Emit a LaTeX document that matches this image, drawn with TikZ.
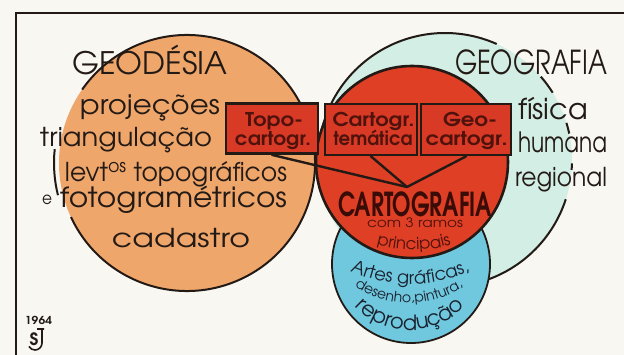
\documentclass[tikz,border=0pt]{standalone}
\usepackage{fontspec}
\setmainfont{TeX Gyre Adventor}
\usetikzlibrary{decorations.text}
\definecolor{bg}{HTML}{F8F7F2}
\definecolor{orangec}{HTML}{EFA66B}
\definecolor{cyanc}{HTML}{D3EEE5}
\definecolor{redc}{HTML}{DF3F25}
\definecolor{boxred}{HTML}{D83A25}
\definecolor{bluec}{HTML}{70C8DE}
\definecolor{ink}{HTML}{231A16}
\definecolor{maroon}{HTML}{4F120C}
\definecolor{cartc}{HTML}{3A0C07}
\definecolor{bluetext}{HTML}{1A2230}
\newcommand\fitw[2]{\resizebox{#1pt}{\height}{#2}}
\newcommand\fs[1]{\fontsize{#1}{#1}\selectfont}
\newcommand\artfont{\fontsize{18}{18}\selectfont}
\newcommand\desfont{\fontsize{14}{14}\selectfont}
\newcommand\repfont{\fontsize{21}{21}\selectfont}
\newcommand\prinfont{\fontsize{16.5}{16.5}\selectfont}
\tikzset{
  outl/.style={draw=ink, line width=2pt},
  txt/.style={inner sep=0pt, anchor=base, text=ink},
  btxt/.style={inner sep=0pt, anchor=base, text=maroon, font=\bfseries},
  boxnode/.style={rectangle, fill=boxred, draw=ink, line width=2.8pt, inner sep=0pt},
  conn/.style={draw=ink, line width=2.4pt, line cap=round, line join=round},
}
\begin{document}
\begin{tikzpicture}[x=1pt,y=-1pt]
\useasboundingbox (0,0) rectangle (624,355);
\fill[bg] (0,0) rectangle (624,355);
\draw[ink, line width=2pt] (16,355) -- (16,13) -- (624,13);
\coordinate (O) at (187,163);
\coordinate (C) at (445,160);
\coordinate (R) at (412,162);
\coordinate (B) at (411,264);
% Geodesia circle
\fill[orangec] (O) circle[radius=128];
\draw[outl] (O) ++(155:128) arc[start angle=155, end angle=-145, radius=128];
\draw[outl] (O) ++(166:133) arc[start angle=166, end angle=186, radius=133];
% Geografia circle
\fill[cyanc] (C) circle[radius=127];
\draw[outl] (C) ++(-180:127) arc[start angle=-180, end angle=-66, radius=127];
\draw[outl] (C) ++(-41:127) arc[start angle=-41, end angle=-32, radius=127];
\draw[outl] (C) ++(-17:127) arc[start angle=-17, end angle=-12, radius=127];
\draw[outl] (C) ++(1.5:127) arc[start angle=1.5, end angle=4.5, radius=127];
\draw[outl] (C) ++(18:127) arc[start angle=18, end angle=110, radius=127];
% Artes graficas circle
\filldraw[fill=bluec, draw=ink, line width=1.8pt] (B) circle[radius=79];
% Cartografia circle
\filldraw[fill=redc, draw=ink, line width=2.6pt] (R) circle[radius=96];
% boxes
\node[boxnode, minimum width=92pt, minimum height=50pt] (b1) at (272,128.5) {};
\node[boxnode, minimum width=92pt, minimum height=51pt] (b2) at (371,129.5) {};
\node[boxnode, minimum width=90pt, minimum height=51pt] (b3) at (466,129.5) {};
\coordinate (apex) at (407,187);
\draw[conn] (b1.south) -- (apex);
\draw[conn] (b2.south) -- (apex);
\draw[conn] (b3.south) -- (apex);
\node[btxt] (t1a) at (274,127) {\fitw{58}{\fs{19}Topo-}};
\node[btxt] (t1b) at (273,146) {\fitw{76}{\fs{19}cartogr.}};
\node[btxt] (t2a) at (373.5,127) {\fitw{82}{\fs{19}Cartogr.}};
\node[btxt] (t2b) at (373,146) {\fitw{79}{\fs{19}temática}};
\node[btxt] (t3a) at (470,127) {\fitw{54}{\fs{19}Geo-}};
\node[btxt] (t3b) at (466.5,146) {\fitw{82}{\fs{19}cartogr.}};
% left texts
\node[txt] (geod) at (150,75) {\fitw{155}{\fs{31}GEODÉSIA}};
\node[txt] (proj) at (150,115) {\fitw{140}{\fs{27}projeções}};
\node[txt] (tri) at (126,147) {\fitw{172}{\fs{26}triangulação}};
\node[txt] (lev) at (176,182) {\fitw{222}{\fs{26}levt\textsuperscript{os} topográficos}};
\node[txt] (e) at (47,204.5) {\fitw{10}{\fs{17}e}};
\node[txt] (foto) at (173.5,208) {\fitw{227}{\fs{28}fotogramétricos}};
\node[txt] (cad) at (181,248) {\fitw{138}{\fs{26}cadastro}};
% right texts
\node[txt] (geog) at (531,75) {\fitw{152}{\fs{33}GEOGRAFIA}};
\node[txt] (fis) at (553,120) {\fitw{70}{\fs{29}física}};
\node[txt] (hum) at (562.5,153) {\fitw{89}{\fs{28}humana}};
\node[txt] (reg) at (561,187) {\fitw{92}{\fs{26}regional}};
% cartografia texts
\node[txt, text=cartc] (carto) at (415,217) {\fitw{154}{\fs{33}\bfseries CARTOGRAFIA}};
\node[txt, text=maroon] (ramos) at (415,228) {\fitw{96}{\fs{13}com 3 ramos}};
\path[decorate, decoration={text along path, text align=center, text color=maroon,
  text={|\prinfont|principais}}]
  (414,120) ++(118:130) arc[start angle=118, end angle=62, radius=130];
% artes texts
\path[decorate, decoration={text along path, text align=center, text color=bluetext,
  text={|\artfont|Artes gráficas,}}]
  (410,138) ++(120:146) arc[start angle=120, end angle=60, radius=146];
\path[decorate, decoration={text along path, text align=center, text color=bluetext,
  text={|\desfont|desenho,pintura,}}]
  (409,205) ++(135:98) arc[start angle=135, end angle=45, radius=98];
\path[decorate, decoration={text along path, text align=center, text color=bluetext,
  text={|\repfont|reprodução}}]
  (410,254) ++(150:76) arc[start angle=150, end angle=30, radius=76];
% signature
\node[txt] (year) at (38.5,325) {\fitw{27}{\fs{11}\bfseries 1964}};
\node[inner sep=0pt, text=ink] (logoS) at (34,339) {\fs{17}\bfseries S};
\draw[ink, line width=1.6pt] (37,329) -- (44,329) (42,329) -- (42,343) arc[start angle=0, end angle=150, radius=7];
\end{tikzpicture}
\end{document}
